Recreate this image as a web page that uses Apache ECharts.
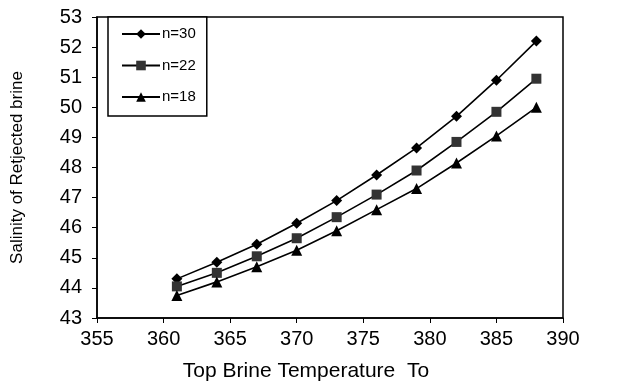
<!DOCTYPE html>
<html><head><meta charset="utf-8">
<script src="https://cdn.jsdelivr.net/npm/echarts@6/dist/echarts.min.js"></script>
<style>html,body{margin:0;padding:0;background:#fff}#c{width:618px;height:387px}</style>
</head><body><div id="c"></div>
<script>
const temps = [361, 364, 367, 370, 373, 376, 379, 382, 385, 388];
const n30 = [44.3, 44.85, 45.45, 46.15, 46.9, 47.75, 48.65, 49.7, 50.9, 52.2];
const n22 = [44.05, 44.5, 45.05, 45.65, 46.35, 47.1, 47.9, 48.85, 49.85, 50.95];
const n18 = [43.75, 44.2, 44.7, 45.25, 45.9, 46.6, 47.3, 48.15, 49.05, 50.0];
const seriesNames = ['n=30', 'n=22', 'n=18'];

const font = 'Liberation Sans, Arial, sans-serif';
const chart = echarts.init(document.getElementById('c'));
function mk(name, vals, symbol, size, color) {
  return {
    name: name, type: 'line', data: temps.map((t, i) => [t, vals[i]]),
    symbol: symbol, symbolSize: size,
    lineStyle: {color: '#000', width: 1.6},
    itemStyle: {color: color, borderWidth: 0},
    animation: false
  };
}
chart.setOption({
  animation: false,
  grid: {left: 97, right: 55, top: 17, bottom: 69, show: true, borderColor: '#000', borderWidth: 1.5},
  legend: {
    orient: 'vertical', left: 108, top: 17,
    data: seriesNames,
    itemWidth: 38, itemHeight: 12, itemGap: 15.5,
    padding: [9, 11, 11, 13],
    borderColor: '#000', borderWidth: 1.5, backgroundColor: '#fff',
    textStyle: {fontFamily: font, fontSize: 15, lineHeight: 16, color: '#000', padding: [0, 0, 0, -3]}
  },
  xAxis: {
    type: 'value', min: 355, max: 390, interval: 5,
    name: 'Top Brine Temperature  To', nameLocation: 'middle', nameGap: 43,
    nameTextStyle: {fontFamily: font, fontSize: 21, color: '#000', padding: [0, 48, 0, 0]},
    axisLine: {show: true, lineStyle: {color: '#000', width: 1.5}},
    axisTick: {show: true, inside: false, length: 5, lineStyle: {color: '#000'}},
    axisLabel: {fontFamily: font, fontSize: 20, color: '#000', margin: 11},
    splitLine: {show: false}
  },
  yAxis: {
    type: 'value', min: 43, max: 53, interval: 1,
    name: 'Salinity of Retjected brine', nameLocation: 'middle', nameGap: 71,
    nameTextStyle: {fontFamily: font, fontSize: 17, color: '#000'},
    axisLine: {show: true, lineStyle: {color: '#000', width: 1.5}},
    axisTick: {show: true, inside: false, length: 5, lineStyle: {color: '#000'}},
    axisLabel: {fontFamily: font, fontSize: 20, color: '#000', margin: 15},
    splitLine: {show: false}
  },
  series: [
    mk('n=30', n30, 'diamond', 11, '#000'),
    mk('n=22', n22, 'rect', 10, '#333'),
    mk('n=18', n18, 'triangle', 11, '#000')
  ]
});
</script></body></html>
